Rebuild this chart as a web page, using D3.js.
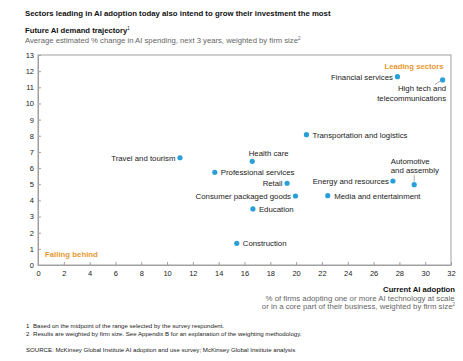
<!DOCTYPE html>
<html><head><meta charset="utf-8">
<script src="https://cdn.jsdelivr.net/npm/d3@7"></script>
<style>body{margin:0;background:#fff;} text{font-family:"Liberation Sans",Arial,sans-serif;}</style>
</head><body><svg id="c" width="463" height="361"></svg>
<script>
const sectors = ["Travel and tourism","Health care","Professional services","Retail","Consumer packaged goods","Education","Construction","Media and entertainment","Energy and resources","Automotive and assembly","Transportation and logistics","Financial services","High tech and telecommunications"];
const adoption = [11.0, 16.6, 13.7, 19.3, 19.95, 16.65, 15.4, 22.45, 27.5, 29.15, 20.8, 27.85, 31.35];
const demand   = [6.64, 6.42, 5.74, 5.06, 4.27, 3.47, 1.34, 4.29, 5.2, 4.97, 8.07, 11.66, 11.46];
const xTicks = d3.range(0, 33, 2);
const yTicks = d3.range(0, 14, 1);

// label layout (placement only)
const labelLayout = {
  "Travel and tourism": {anchor:"end", dx:-4.5, dy:3},
  "Health care": {anchor:"start", dx:-3.5, dy:-5},
  "Professional services": {anchor:"start", dx:6, dy:3},
  "Retail": {anchor:"end", dx:-4.5, dy:3},
  "Consumer packaged goods": {anchor:"end", dx:-4.5, dy:3},
  "Education": {anchor:"start", dx:6, dy:3},
  "Construction": {anchor:"start", dx:6, dy:3},
  "Media and entertainment": {anchor:"start", dx:6.5, dy:3},
  "Energy and resources": {anchor:"end", dx:-4, dy:2.5},
  "Automotive and assembly": {anchor:"start", dx:-23.5, dy:-21, lines:["Automotive","and assembly"], leader:[[0,-3],[0,-9.5]]},
  "Transportation and logistics": {anchor:"start", dx:6, dy:3},
  "Financial services": {anchor:"end", dx:-4.5, dy:3},
  "High tech and telecommunications": {anchor:"end", dx:3.5, dy:11.5, lines:["High tech and","telecommunications"], leader:[[-2,1],[-7.5,4.5]]}
};

const svg = d3.select("#c");
const x = d3.scaleLinear().domain([0,32]).range([38,451]);
const y = d3.scaleLinear().domain([0,13]).range([265,55]);
const gray = "#a0a0a0", blue = "#2b9fd9", orange = "#e8972f";

// titles
svg.append("text").attr("x",25).attr("y",16).attr("font-size",7.8).attr("font-weight","bold").attr("fill","#111")
  .text("Sectors leading in AI adoption today also intend to grow their investment the most");
const t2 = svg.append("text").attr("x",25).attr("y",33).attr("font-size",7.7).attr("font-weight","bold").attr("fill","#111");
t2.append("tspan").text("Future AI demand trajectory");
t2.append("tspan").attr("font-size",4.5).attr("dy",-3).attr("font-weight","normal").text("1");
const t3 = svg.append("text").attr("x",25).attr("y",42.5).attr("font-size",7.7).attr("fill","#666");
t3.append("tspan").text("Average estimated % change in AI spending, next 3 years, weighted by firm size");
t3.append("tspan").attr("font-size",4.5).attr("dy",-3).text("2");

// frame
svg.append("rect").attr("x",x(0)).attr("y",y(13)).attr("width",x(32)-x(0)).attr("height",y(0)-y(13))
  .attr("fill","none").attr("stroke",gray).attr("stroke-width",1);

// axes
const yAxis = d3.axisLeft(y).tickValues(yTicks).tickSizeInner(-3).tickSizeOuter(0).tickPadding(4);
const gy = svg.append("g").attr("transform",`translate(${x(0)},0)`).call(yAxis);
const xAxis = d3.axisBottom(x).tickValues(xTicks).tickSizeInner(-3).tickSizeOuter(0).tickPadding(6);
const gx = svg.append("g").attr("transform",`translate(0,${y(0)})`).call(xAxis);
[gx,gy].forEach(g=>{
  g.select(".domain").attr("stroke",gray);
  g.selectAll(".tick line").attr("stroke",gray);
  g.selectAll(".tick text").attr("font-size",7.5).attr("fill","#222").attr("font-family","Liberation Sans, Arial, sans-serif");
});

// quadrant labels
svg.append("text").attr("x",443.5).attr("y",68.5).attr("text-anchor","end").attr("font-size",7.7).attr("font-weight","bold").attr("fill",orange).text("Leading sectors");
svg.append("text").attr("x",45).attr("y",256.5).attr("font-size",7.8).attr("font-weight","bold").attr("fill",orange).text("Falling behind");

// points and labels
const data = sectors.map((s,i)=>({name:s, a:adoption[i], d:demand[i]}));
const g = svg.append("g");
data.forEach(p=>{
  const cx = x(p.a), cy = y(p.d), L = labelLayout[p.name];
  if (L.leader) {
    g.append("line").attr("x1",cx+L.leader[0][0]).attr("y1",cy+L.leader[0][1]).attr("x2",cx+L.leader[1][0]).attr("y2",cy+L.leader[1][1])
      .attr("stroke","#888").attr("stroke-width",0.7);
  }
  g.append("circle").attr("cx",cx).attr("cy",cy).attr("r",2.6).attr("fill",blue);
  const t = g.append("text").attr("x",cx+L.dx).attr("y",cy+L.dy).attr("text-anchor",L.anchor).attr("font-size",7.8).attr("fill","#222");
  const lines = L.lines || [p.name];
  lines.forEach((ln,k)=>t.append("tspan").attr("x",cx+L.dx).attr("dy",k===0?0:9.6).text(ln));
});

// x-axis title
svg.append("text").attr("x",455).attr("y",291.5).attr("text-anchor","end").attr("font-size",7.7).attr("font-weight","bold").attr("fill","#111").text("Current AI adoption");
svg.append("text").attr("x",454.5).attr("y",300.5).attr("text-anchor","end").attr("font-size",7.8).attr("fill","#666").text("% of firms adopting one or more AI technology at scale");
const t4 = svg.append("text").attr("x",455).attr("y",309.2).attr("text-anchor","end").attr("font-size",7.8).attr("fill","#666");
t4.append("tspan").text("or in a core part of their business, weighted by firm size");
t4.append("tspan").attr("font-size",4.5).attr("dy",-3).text("2");

// footnotes
const fn = [["1","Based on the midpoint of the range selected by the survey respondent."],["2","Results are weighted by firm size. See Appendix B for an explanation of the weighting methodology."]];
fn.forEach((f,i)=>{
  svg.append("text").attr("x",26).attr("y",328.2+i*8).attr("font-size",6.1).attr("fill","#222").text(f[0]);
  svg.append("text").attr("x",33).attr("y",328.2+i*8).attr("font-size",6.1).attr("fill","#222").text(f[1]);
});
svg.append("text").attr("x",26).attr("y",351.8).attr("font-size",6.1).attr("fill","#222").text("SOURCE:  McKinsey Global Institute AI adoption and use survey; McKinsey Global Institute analysis");
</script></body></html>
